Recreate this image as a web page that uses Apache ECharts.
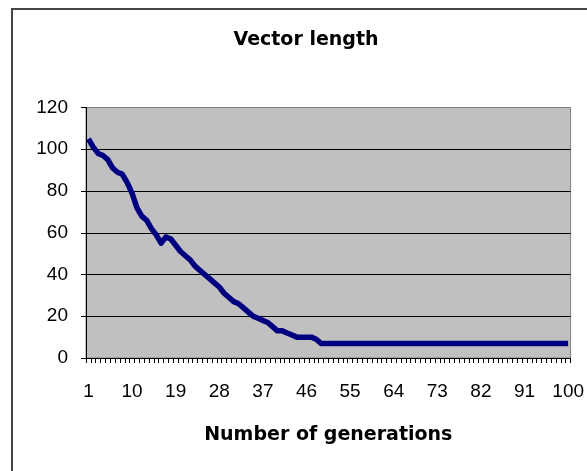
<!DOCTYPE html>
<html>
<head>
<meta charset="utf-8">
<title>Vector length</title>
<script src="https://cdn.jsdelivr.net/npm/echarts@6/dist/echarts.min.js"></script>
<style>
  html, body { margin: 0; padding: 0; background: #fff; }
  #chart { width: 587px; height: 471px; }
</style>
</head>
<body>
<div id="chart"></div>
<script>
// generations on the category axis
const generations = [
  1, 2, 3, 4, 5, 6, 7, 8, 9, 10, 11, 12, 13, 14, 15, 16, 17, 18, 19, 20,
  21, 22, 23, 24, 25, 26, 27, 28, 29, 30, 31, 32, 33, 34, 35, 36, 37, 38, 39, 40,
  41, 42, 43, 44, 45, 46, 47, 48, 49, 50, 51, 52, 53, 54, 55, 56, 57, 58, 59, 60,
  61, 62, 63, 64, 65, 66, 67, 68, 69, 70, 71, 72, 73, 74, 75, 76, 77, 78, 79, 80,
  81, 82, 83, 84, 85, 86, 87, 88, 89, 90, 91, 92, 93, 94, 95, 96, 97, 98, 99, 100
]
// vector length per generation
const vectorLength = [
  105, 101, 98, 97, 95, 91, 89, 88, 84, 79,
  72, 68, 66, 62, 59, 55, 58, 57, 54, 51,
  49, 47, 44, 42, 40, 38, 36, 34, 31, 29,
  27, 26, 24, 22, 20, 19, 18, 17, 15, 13,
  13, 12, 11, 10, 10, 10, 10, 9, 7, 7,
  7, 7, 7, 7, 7, 7, 7, 7, 7, 7,
  7, 7, 7, 7, 7, 7, 7, 7, 7, 7,
  7, 7, 7, 7, 7, 7, 7, 7, 7, 7,
  7, 7, 7, 7, 7, 7, 7, 7, 7, 7,
  7, 7, 7, 7, 7, 7, 7, 7, 7, 7
]
const yTicks = [0, 20, 40, 60, 80, 100, 120]

const chart = echarts.init(document.getElementById('chart'))
const option = {
  animation: false,
  backgroundColor: '#fff',
  title: {
    text: 'Vector length',
    left: 301,
    top: 26,
    textAlign: 'center',
    textStyle: {
      fontFamily: 'DejaVu Sans',
      fontWeight: 'bold',
      fontSize: 19,
      color: '#000'
    }
  },
  // outer chart frame, only left and top edges are inside the picture
  graphic: [
    {
      type: 'rect',
      shape: { x: 12, y: 9, width: 620, height: 520 },
      style: { fill: 'none', stroke: '#444', lineWidth: 2 },
      silent: true
    }
  ],
  grid: {
    left: 86,
    right: 13,
    top: 107.5,
    bottom: 113,
    show: true,
    backgroundColor: '#c0c0c0',
    borderColor: '#808080',
    borderWidth: 1
  },
  xAxis: {
    type: 'category',
    data: generations,
    boundaryGap: true,
    name: 'Number of generations',
    nameLocation: 'middle',
    nameGap: 68,
    nameTextStyle: {
      fontFamily: 'DejaVu Sans',
      fontWeight: 'bold',
      fontSize: 19,
      color: '#000'
    },
    axisLine: { show: true, lineStyle: { color: '#000', width: 1 } },
    axisTick: {
      show: true,
      interval: 0,
      alignWithLabel: false,
      length: 5,
      lineStyle: { color: '#000', width: 1 }
    },
    axisLabel: {
      interval: 8,
      margin: 24,
      fontFamily: 'Liberation Sans',
      fontSize: 19,
      color: '#000'
    },
    splitLine: { show: false }
  },
  yAxis: {
    type: 'value',
    min: yTicks[0],
    max: yTicks[yTicks.length - 1],
    interval: 20,
    axisLine: { show: true, lineStyle: { color: '#000', width: 1 } },
    axisTick: { show: true, length: 5, lineStyle: { color: '#000' } },
    axisLabel: {
      margin: 18,
      fontFamily: 'Liberation Sans',
      fontSize: 19,
      color: '#000'
    },
    splitLine: {
      show: true,
      lineStyle: {
        color: ['#000', '#000', '#000', '#000', '#000', '#000', '#808080'],
        width: 1
      }
    }
  },
  series: [
    {
      name: 'Vector length',
      type: 'line',
      data: vectorLength,
      showSymbol: false,
      symbol: 'none',
      lineStyle: { color: '#000080', width: 5.5, join: 'round' },
      itemStyle: { color: '#000080' }
    }
  ]
}
chart.setOption(option)
</script>
</body>
</html>
